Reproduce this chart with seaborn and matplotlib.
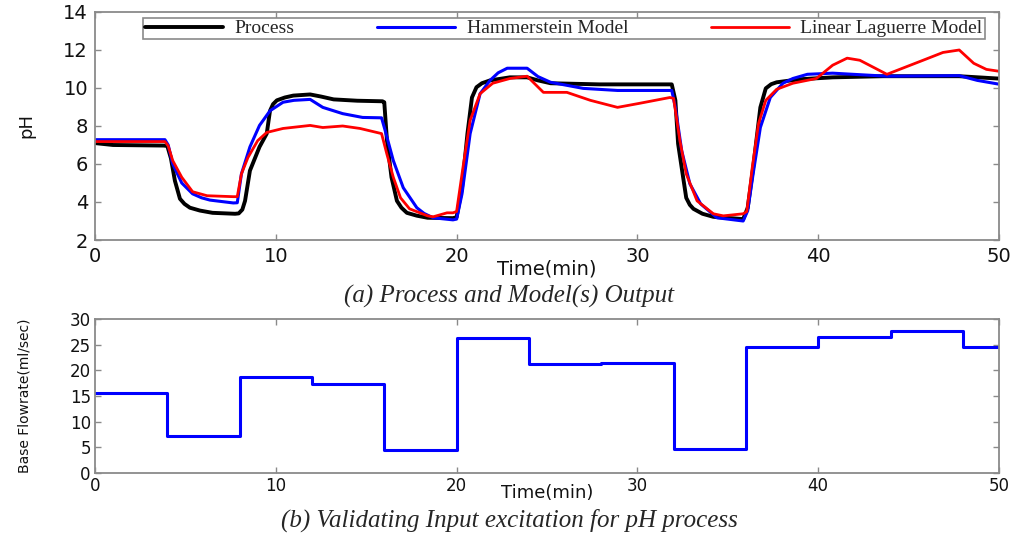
import numpy as np
import pandas as pd
import matplotlib
matplotlib.use("Agg")
import matplotlib.pyplot as plt
import seaborn as sns

# ---- pH response (time in min, pH) ----
t_process = [0, 1, 3.8, 4.0, 4.2, 4.42, 4.7, 4.95, 5.25, 5.8, 6.5, 7.75, 7.95, 8.15, 8.3, 8.57, 9.1, 9.5,
             9.68, 9.85, 10.06, 10.5, 10.97, 11.9, 12.5, 13.2, 14.5, 15.9, 16.0, 16.15, 16.4, 16.7,
             16.95, 17.25, 17.8, 18.4, 19.8, 20.0, 20.3, 20.6, 20.85, 21.1, 21.4, 21.85, 22.95, 23.9,
             24.5, 25.2, 27.9, 31.9, 32.1, 32.25, 32.5, 32.7, 32.9, 33.1, 33.6, 34.2, 35.85, 36.1,
             36.4, 36.8, 37.1, 37.4, 37.7, 39.0, 40.8, 43.6, 47.8, 49.9, 50]
ph_process = [7.1, 7.0, 6.97, 6.95, 6.3, 5.12, 4.17, 3.9, 3.7, 3.55, 3.43, 3.38, 3.4, 3.6, 4.06, 5.65, 6.9,
              7.6, 8.8, 9.15, 9.35, 9.5, 9.6, 9.66, 9.55, 9.4, 9.33, 9.3, 9.25, 7.23, 5.3, 4.06,
              3.7, 3.43, 3.28, 3.17, 3.15, 3.2, 4.75, 7.6, 9.5, 10.04, 10.25, 10.4, 10.56, 10.56,
              10.4, 10.25, 10.19, 10.19, 9.35, 7.07, 5.48, 4.22, 3.85, 3.64, 3.38, 3.22, 3.1, 3.7,
              5.8, 8.98, 9.98, 10.2, 10.3, 10.46, 10.56, 10.62, 10.62, 10.5, 10.5]

t_hammer = [0, 3.87, 4.05, 4.3, 4.8, 5.4, 5.9, 6.36, 7.65, 7.87, 8.1, 8.57, 9.1, 9.68, 10.4, 11.0, 11.9,
            12.6, 13.7, 14.8, 15.85, 16.05, 16.5, 17.05, 17.8, 18.2, 18.7, 19.8, 20.0, 20.3, 20.75,
            21.3, 21.85, 22.3, 22.8, 23.9, 24.5, 25.2, 27.0, 28.9, 31.9, 32.1, 32.45, 32.9, 33.5,
            34.4, 35.85, 36.1, 36.4, 36.8, 37.35, 38.05, 38.6, 39.4, 40.8, 43.8, 47.8, 48.8, 50]
ph_hammer = [7.28, 7.28, 7.0, 6.0, 5.0, 4.43, 4.22, 4.1, 3.95, 3.96, 5.48, 6.9, 8.03, 8.8, 9.25, 9.35, 9.4,
             8.98, 8.65, 8.45, 8.43, 7.76, 6.18, 4.75, 3.7, 3.4, 3.17, 3.06, 3.1, 4.43, 7.6,
             9.7, 10.4, 10.8, 11.04, 11.04, 10.6, 10.3, 9.98, 9.87, 9.87, 8.98, 6.7, 4.96, 3.9,
             3.17, 3.0, 3.54, 5.48, 7.92, 9.5, 10.25, 10.5, 10.72, 10.78, 10.62, 10.65, 10.4, 10.2]

t_laguerre = [0, 3.87, 4.05, 4.3, 4.8, 5.4, 6.2, 7.65, 7.87, 8.1, 8.46, 9.0, 9.5, 10.4, 11.9, 12.6, 13.7,
              14.66, 15.85, 16.15, 16.5, 16.9, 17.4, 18.4, 18.7, 19.47, 19.8, 20.0, 20.35, 20.75,
              21.3, 22.0, 22.95, 23.9, 24.8, 26.1, 27.4, 28.9, 30.1, 31.8, 32.0, 32.35, 32.7,
              33.3, 34.2, 34.75, 35.85, 36.05, 36.35, 36.7, 37.1, 37.7, 38.6, 39.9, 40.8, 41.6,
              42.3, 43.8, 45.8, 46.9, 47.8, 48.6, 49.3, 50]
ph_laguerre = [7.18, 7.18, 6.95, 6.18, 5.3, 4.54, 4.33, 4.28, 4.28, 5.48, 6.34, 7.23, 7.66, 7.87, 8.03, 7.92, 8.0,
               7.87, 7.6, 6.5, 5.3, 4.22, 3.64, 3.27, 3.22, 3.43, 3.43, 3.5, 5.8, 8.3,
               9.7, 10.25, 10.5, 10.62, 9.77, 9.77, 9.35, 8.98, 9.19, 9.5, 9.45, 7.23, 5.48,
               4.06, 3.38, 3.27, 3.38, 3.5, 5.8, 8.13, 9.35, 9.93, 10.25, 10.5, 11.2, 11.57,
               11.46, 10.72, 11.46, 11.87, 12.0, 11.3, 10.98, 10.88]

# ---- input excitation: switching times and base flow levels (ml/sec) ----
switch_times = [0, 4, 8, 12, 16, 20, 24, 28, 32, 36, 40, 44, 48, 50]
flow_levels = [15.5, 7.2, 18.6, 17.4, 4.4, 26.3, 21.3, 21.5, 4.7, 24.6, 26.4, 27.6, 24.5, 24.5]

series_names = ["Process", "Hammerstein Model", "Linear Laguerre Model"]
series_colors = ["black", "#0000ff", "#ff0000"]
series_widths = [2.8, 2.2, 2.0]

sns.set_style("ticks")
plt.rcParams["font.family"] = ["DejaVu Sans"]

fig = plt.figure(figsize=(10.19, 5.35), dpi=100)
ax1 = fig.add_axes([0.0932, 0.5514, 0.8872, 0.4262])
ax2 = fig.add_axes([0.0932, 0.1159, 0.8872, 0.2879])

curves = [(t_process, ph_process), (t_hammer, ph_hammer), (t_laguerre, ph_laguerre)]
for (tt, yy), name, col, lw in zip(curves, series_names, series_colors, series_widths):
    sns.lineplot(x=tt, y=yy, ax=ax1, color=col, lw=lw, label=name, sort=False, estimator=None)

df_in = pd.DataFrame({"time": switch_times, "flow": flow_levels})
sns.lineplot(data=df_in, x="time", y="flow", ax=ax2, color="#0000ff", lw=2.2,
             drawstyle="steps-post", estimator=None)

spine_col = "#8a8a8a"
for ax in (ax1, ax2):
    ax.set_xlim(0, 50)
    ax.set_xticks([0, 10, 20, 30, 40, 50])
    for s in ax.spines.values():
        s.set_visible(True)
        s.set_color(spine_col)
        s.set_linewidth(1.3)
    ax.tick_params(direction="in", length=4, width=1, color=spine_col,
                   top=True, right=True, labelcolor="#111111")

ax1.set_ylim(2, 14)
ax1.set_yticks([2, 4, 6, 8, 10, 12, 14])
ax1.tick_params(labelsize=14, pad=5)
ax1.set_xlabel("Time(min)", fontsize=14, color="#111111")
ax1.xaxis.set_label_coords(0.5, -0.085)
ax1.set_ylabel("pH", fontsize=13, color="#111111")
ax1.yaxis.set_label_coords(-0.066, 0.5)

leg = ax1.legend(loc="upper left", bbox_to_anchor=(0.053, 0.974, 0.931, 0.0), mode="expand",
                 ncol=3, borderaxespad=0, borderpad=0.1, handlelength=4.0, handletextpad=0.6,
                 fancybox=False, framealpha=1, edgecolor=spine_col,
                 prop={"family": "Liberation Serif", "size": 14})
leg.get_frame().set_linewidth(1.2)

ax2.set_ylim(0, 30)
ax2.set_yticks([0, 5, 10, 15, 20, 25, 30])
ax2.tick_params(labelsize=12, pad=3)
ax2.set_xlabel("Time(min)", fontsize=13, color="#111111")
ax2.xaxis.set_label_coords(0.5, -0.07)
ax2.set_ylabel("Base Flowrate(ml/sec)", fontsize=10, color="#111111")
ax2.yaxis.set_label_coords(-0.07, 0.5)

fig.text(0.5, 0.445, "(a) Process and Model(s) Output", ha="center", va="center",
         fontsize=18, style="italic", family="Liberation Serif")
fig.text(0.5, 0.028, "(b) Validating Input excitation for pH process", ha="center", va="center",
         fontsize=18, style="italic", family="Liberation Serif")

fig.savefig("out.png", dpi=100, facecolor="white")
